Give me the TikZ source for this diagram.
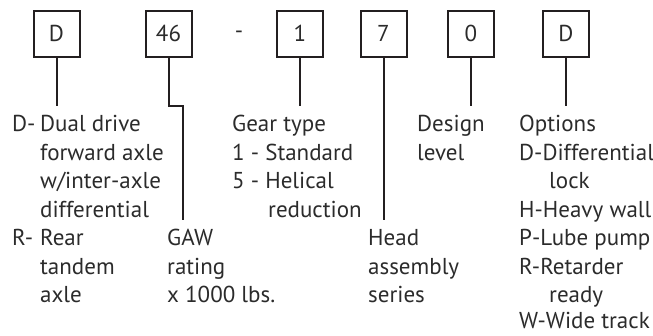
\documentclass[tikz,border=0pt]{standalone}
\usepackage{fontspec}
\setmainfont{PT Sans}
\begin{document}
\begin{tikzpicture}[x=1pt,y=-1pt,
  codebox/.style={draw=linec, line width=2pt, minimum width=46pt, minimum height=46pt, inner sep=0pt, text=txtc, font=\fontsize{23}{28}\selectfont},
  lbl/.style={anchor=base west, inner sep=0pt, text=txtc, font=\fontsize{23}{28}\selectfont},
  lead/.style={draw=linec, line width=2pt}]
\definecolor{linec}{HTML}{231F20}
\definecolor{txtc}{HTML}{2B2B2B}
\useasboundingbox (0,0) rectangle (653,335);
% boxes
\node[codebox] (bD) at (56.5,33.5) {D};
\node[codebox] (b46) at (168.5,33.5) {46};
\node[lbl, anchor=center] (dash) at (239,35) {-};
\node[codebox] (b1) at (300,33.5) {1};
\node[codebox] (b7) at (383.5,33.5) {7};
\node[codebox] (b0) at (471,33.5) {0};
\node[codebox] (bO) at (566,33.5) {D};
% end points
\coordinate (eD) at (56.5,106);
\coordinate (k46a) at (168.5,106);
\coordinate (k46b) at (183,106);
\coordinate (e46) at (183,220);
\coordinate (e1) at (300,106);
\coordinate (e7) at (383.5,220);
\coordinate (e0) at (471,106);
\coordinate (eO) at (566,106);
\draw[lead] (bD.south) -- (eD);
\draw[lead] (b46.south) -- (k46a) -- (k46b) -- (e46);
\draw[lead] (b1.south) -- (e1);
\draw[lead] (b7.south) -- (e7);
\draw[lead] (b0.south) -- (e0);
\draw[lead] (bO.south) -- (eO);
% column D
\node[lbl] (tD1) at (12,131.5) {D-};
\node[lbl] (tD2) at (40,131.5) {Dual drive};
\node[lbl] (tD3) at (40,160) {forward axle};
\node[lbl] (tD4) at (40,188.5) {w/inter-axle};
\node[lbl] (tD5) at (40,217) {differential};
\node[lbl] (tR1) at (12,245.5) {R-};
\node[lbl] (tR2) at (40,245.5) {Rear};
\node[lbl] (tR3) at (40,274) {tandem};
\node[lbl] (tR4) at (40,302.5) {axle};
% GAW
\node[lbl] (tG1) at (167,245.5) {GAW};
\node[lbl] (tG2) at (167,274) {rating};
\node[lbl] (tG3) at (167,302.5) {x 1000 lbs.};
% Gear type
\node[lbl] (tT1) at (232,131.5) {Gear type};
\node[lbl] (tT2) at (232,160) {1 - Standard};
\node[lbl] (tT3) at (232,188.5) {5 - Helical};
\node[lbl] (tT4) at (268,217) {reduction};
% Head
\node[lbl] (tH1) at (368,245.5) {Head};
\node[lbl] (tH2) at (368,274) {assembly};
\node[lbl] (tH3) at (368,302.5) {series};
% Design
\node[lbl] (tS1) at (417,131.5) {Design};
\node[lbl] (tS2) at (417,160) {level};
% Options
\node[lbl] (tO1) at (519,131.5) {Options};
\node[lbl] (tO2) at (519,160) {D-Differential};
\node[lbl] (tO3) at (549,188.5) {lock};
\node[lbl] (tO4) at (519,217) {H-Heavy wall};
\node[lbl] (tO5) at (519,245.5) {P-Lube pump};
\node[lbl] (tO6) at (519,274) {R-Retarder};
\node[lbl] (tO7) at (549,302.5) {ready};
\node[lbl] (tO8) at (519,328.5) {W-Wide track};
\end{tikzpicture}
\end{document}
